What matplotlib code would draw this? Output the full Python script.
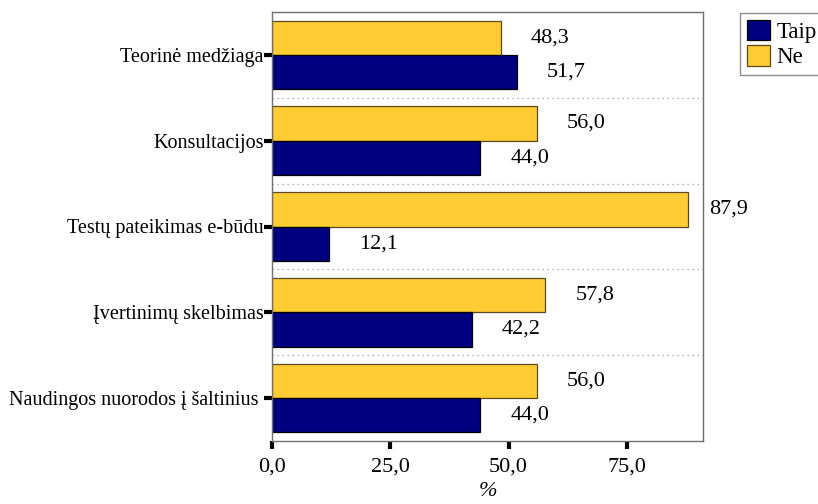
import matplotlib
matplotlib.use("Agg")
import matplotlib.pyplot as plt
import numpy as np

# Survey answers per e-learning feature, in percent
categories = [
    "Teorinė medžiaga",
    "Konsultacijos",
    "Testų pateikimas e-būdu",
    "Įvertinimų skelbimas",
    "Naudingos nuorodos į šaltinius ",
]
taip = [51.7, 44.0, 12.1, 42.2, 44.0]
ne = [48.3, 56.0, 87.9, 57.8, 56.0]
series_names = ["Taip", "Ne"]
xticks = [0, 25, 50, 75]
xlabel = "%"

NAVY = "#000080"
YELLOW = "#FFCC33"
FONT = "Liberation Serif"
FS_CAT = 14.5
FS_NUM = 16

plt.rcParams["font.family"] = [FONT, "DejaVu Serif"]

fig = plt.figure(figsize=(8.18, 5.04), dpi=100)
ax = fig.add_axes([272 / 818, 1 - 441 / 504, (703 - 272) / 818, (441 - 12) / 504])

y = np.arange(len(categories))
h = 0.40
b_ne = ax.barh(y - h / 2, ne, height=h, color=YELLOW, edgecolor="#5c4a1e", linewidth=0.9,
               label=series_names[1])
b_taip = ax.barh(y + h / 2, taip, height=h, color=NAVY, edgecolor="black", linewidth=0.9,
                 label=series_names[0])

ax.set_xlim(0, 91.1)
ax.set_ylim(len(categories) - 0.5, -0.5)

# dotted separators between groups
for k in range(len(categories) - 1):
    ax.axhline(k + 0.5, color="#9a9a9a", linestyle=(0, (1, 3)), linewidth=0.9, zorder=0)

xmax = ax.get_xlim()[1]

def put_labels(vals, ypos):
    for v, yy in zip(vals, ypos):
        txt = f"{v:.1f}".replace(".", ",")
        if v + 6.3 + 8 > xmax:
            ax.annotate(txt, xy=(xmax, yy), xytext=(6, 0), textcoords="offset pixels",
                        ha="left", va="center", fontsize=FS_NUM, annotation_clip=False)
        else:
            ax.annotate(txt, xy=(v, yy), xytext=(30, 0), textcoords="offset pixels",
                        ha="left", va="center", fontsize=FS_NUM)

put_labels(ne, y - h / 2)
put_labels(taip, y + h / 2)

ax.set_yticks(y)
ax.set_yticklabels(categories, fontsize=FS_CAT)
ax.set_xticks(xticks)
ax.set_xticklabels([f"{t:.1f}".replace(".", ",") for t in xticks], fontsize=FS_NUM)
ax.tick_params(axis="both", direction="out", length=6, width=3, color="black")
ax.tick_params(axis="y", pad=0)
ax.tick_params(axis="x", pad=6)

for s in ax.spines.values():
    s.set_color("#707070")
    s.set_linewidth(1.0)

ax.set_xlabel(xlabel, fontsize=FS_NUM, style="italic", labelpad=4)

handles = [b_taip, b_ne]
leg = fig.legend(handles, series_names, loc="upper left",
                 bbox_to_anchor=(740 / 818, 1 - 13 / 504), fontsize=16.5,
                 frameon=True, fancybox=False, edgecolor="#707070",
                 handlelength=1.0, handleheight=1.0, handletextpad=0.3,
                 borderpad=0.3, labelspacing=0.1, borderaxespad=0)
leg.get_frame().set_linewidth(1.0)

fig.savefig("out.png", dpi=100)
